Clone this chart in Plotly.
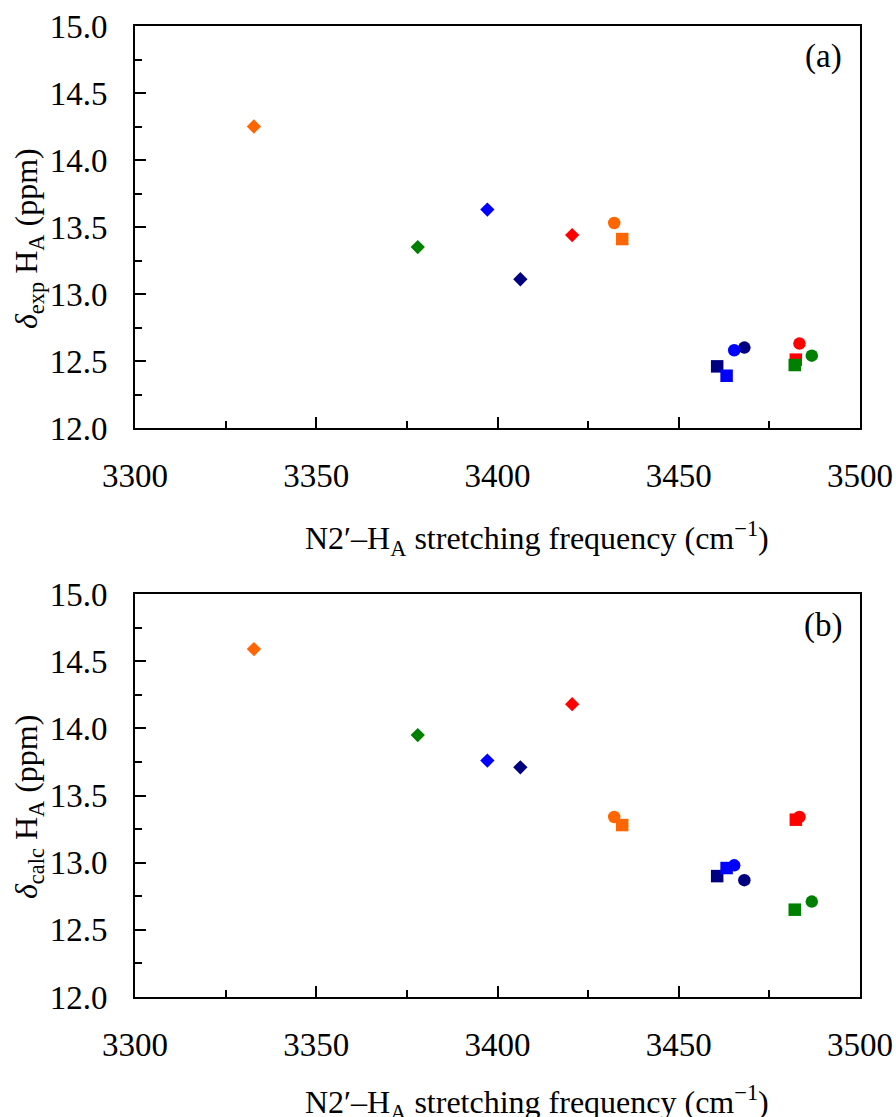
import plotly.graph_objects as go

# ---- data ----
colors = ["#FF6600", "#FF0000", "#000080", "#0000FF", "#008000"]  # orange, red, navy, blue, green

freq_diamond = [3332.8, 3420.6, 3406.3, 3397.2, 3378.0]
freq_circle = [3432.2, 3483.3, 3468.1, 3465.3, 3486.7]
freq_square = [3434.4, 3482.3, 3460.6, 3463.2, 3482.0]

exp_diamond = [14.25, 13.44, 13.11, 13.63, 13.35]
exp_circle = [13.53, 12.63, 12.60, 12.58, 12.54]
exp_square = [13.41, 12.51, 12.46, 12.39, 12.47]

calc_diamond = [14.59, 14.18, 13.71, 13.76, 13.95]
calc_circle = [13.34, 13.34, 12.87, 12.98, 12.71]
calc_square = [13.28, 13.32, 12.90, 12.96, 12.65]

x_ticks = [3300, 3350, 3400, 3450, 3500]
y_ticks = [12.0, 12.5, 13.0, 13.5, 14.0, 14.5, 15.0]

W, H = 896, 1117
FONT = "Liberation Serif"
TICK_SIZE = 33
TITLE_SIZE = 32

fig = go.Figure()

panels = [
    ("x", "y", exp_square, exp_circle, exp_diamond),
    ("x2", "y2", calc_square, calc_circle, calc_diamond),
]
for xa, ya, sq, ci, di in panels:
    fig.add_trace(go.Scatter(x=freq_square, y=sq, mode="markers", xaxis=xa, yaxis=ya,
                             marker=dict(symbol="square", size=12.5, color=colors), showlegend=False))
    fig.add_trace(go.Scatter(x=freq_circle, y=ci, mode="markers", xaxis=xa, yaxis=ya,
                             marker=dict(symbol="circle", size=12.5, color=colors), showlegend=False))
    fig.add_trace(go.Scatter(x=freq_diamond, y=di, mode="markers", xaxis=xa, yaxis=ya,
                             marker=dict(symbol="diamond", size=11, color=colors), showlegend=False))

def px_x(p):
    return p / W

def px_y(p):
    return 1 - p / H

xdom = [px_x(135), px_x(860)]

def xaxis_cfg(anchor):
    return dict(domain=xdom, anchor=anchor, range=[3300, 3500], automargin=False,
                tickvals=x_ticks, ticks="inside", ticklen=11, tickwidth=2, tickcolor="black",
                minor=dict(ticks="inside", ticklen=7, tickwidth=2, tickcolor="black", dtick=25, tick0=3300),
                showline=True, linecolor="black", linewidth=2, mirror=True,
                showgrid=False, zeroline=False,
                tickfont=dict(family=FONT, size=TICK_SIZE, color="black"),
                ticklabelstandoff=17)

def yaxis_cfg(anchor, top, bottom):
    return dict(domain=[px_y(bottom), px_y(top)], anchor=anchor, range=[12, 15], automargin=False,
                tickvals=y_ticks, tickformat=".1f", ticks="inside", ticklen=11, tickwidth=2, tickcolor="black",
                minor=dict(ticks="inside", ticklen=7, tickwidth=2, tickcolor="black", dtick=0.25, tick0=12),
                showline=True, linecolor="black", linewidth=2, mirror=True,
                showgrid=False, zeroline=False,
                tickfont=dict(family=FONT, size=TICK_SIZE, color="black"),
                ticklabelstandoff=19)

xtitle = "N2′–H<sub>A</sub> stretching frequency (cm<sup>−1</sup>)"
annotations = []
for dy, xt_y, lab, ytitle in [(0, 538, "(a)", "<i>δ</i><sub>exp</sub> H<sub>A</sub> (ppm)"),
                               (568, 1102, "(b)", "<i>δ</i><sub>calc</sub> H<sub>A</sub> (ppm)")]:
    common = dict(xref="paper", yref="paper", showarrow=False, xanchor="center", yanchor="middle")
    annotations.append(dict(x=px_x(823), y=px_y(57 + dy), text=lab,
                            font=dict(family=FONT, size=TICK_SIZE, color="black"), **common))
    annotations.append(dict(x=px_x(537), y=px_y(xt_y), text=xtitle,
                            font=dict(family=FONT, size=TITLE_SIZE, color="black"), **common))
    annotations.append(dict(x=px_x(28), y=px_y(239 + dy), text=ytitle, textangle=-90,
                            font=dict(family=FONT, size=TITLE_SIZE, color="black"), **common))

fig.update_layout(
    template="none",
    width=W, height=H, margin=dict(l=0, r=0, t=0, b=0, autoexpand=False),
    paper_bgcolor="white", plot_bgcolor="white",
    xaxis=xaxis_cfg("y"), yaxis=yaxis_cfg("x", 26, 428),
    xaxis2=xaxis_cfg("y2"), yaxis2=yaxis_cfg("x2", 594, 997),
    annotations=annotations,
    font=dict(family=FONT, color="black"),
)

fig.write_html("out.html", config={"displayModeBar": False},
               post_script="document.body.style.margin='0';document.body.style.overflow='hidden';")
